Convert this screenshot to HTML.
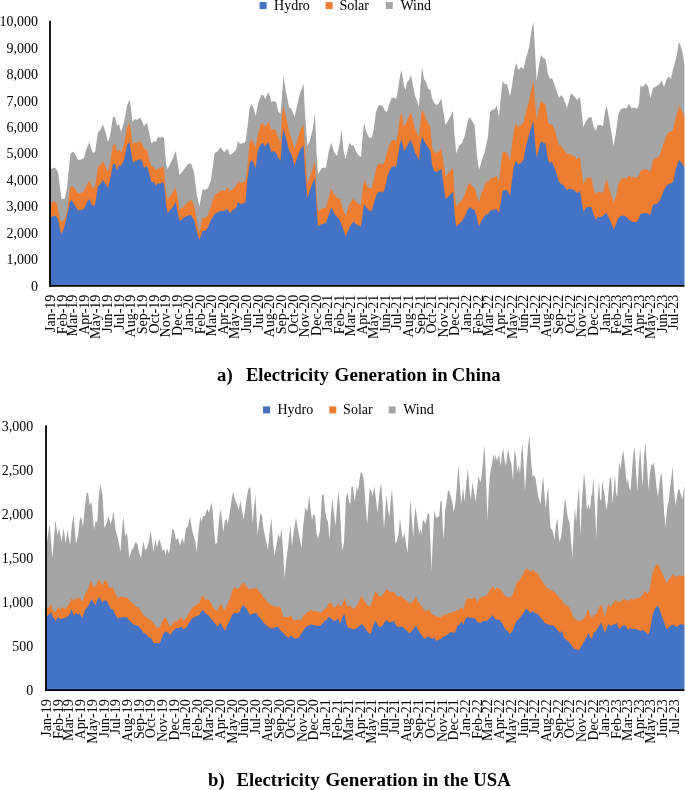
<!DOCTYPE html>
<html><head><meta charset="utf-8"><title>Electricity Generation</title>
<style>
html,body{margin:0;padding:0;background:#fff;}
svg{display:block;will-change:transform;}
text{font-family:"Liberation Serif", serif;font-size:14px;fill:#000;}
g.t text{font-size:18.67px;font-weight:bold;}
</style></head><body>
<svg width="685" height="790" viewBox="0 0 685 790">
<rect width="685" height="790" fill="#fff"/>
<rect x="259.6" y="2.1" width="7" height="7" fill="#4472C4"/>
<text x="274.1" y="9.9">Hydro</text>
<rect x="325.6" y="2.1" width="7" height="7" fill="#ED7D31"/>
<text x="339.4" y="9.9">Solar</text>
<rect x="385.8" y="2.1" width="7" height="7" fill="#A5A5A5"/>
<text x="400.4" y="9.9">Wind</text>
<path d="M50.0,285.9 L50.0,169.0 L51.0,169.0 L55.0,167.6 L58.0,172.0 L61.6,199.6 L65.0,198.0 L67.0,188.0 L70.4,154.0 L73.0,151.6 L75.0,154.0 L78.0,160.0 L81.0,159.6 L84.0,158.0 L86.0,150.0 L89.4,142.0 L91.0,148.0 L93.0,153.0 L95.0,152.0 L98.0,132.0 L100.4,130.0 L103.0,124.6 L106.0,134.0 L108.0,142.0 L110.0,136.0 L113.0,117.0 L115.0,117.0 L117.0,126.0 L119.0,124.0 L121.0,132.0 L124.0,122.0 L127.0,106.0 L129.4,99.6 L131.0,108.0 L132.4,122.0 L135.0,119.0 L137.0,120.0 L140.0,117.6 L142.0,121.0 L144.0,126.0 L147.0,122.4 L149.0,132.0 L151.4,143.6 L154.0,141.0 L156.0,142.0 L158.0,136.4 L160.0,138.0 L162.4,136.4 L164.0,138.0 L166.0,164.0 L167.6,169.0 L170.0,164.0 L173.0,158.0 L175.6,151.0 L177.6,162.0 L179.4,175.0 L182.0,172.0 L185.0,168.0 L188.0,164.0 L191.0,163.6 L194.0,172.0 L197.0,196.0 L199.4,206.0 L202.6,189.0 L205.0,190.0 L208.0,188.0 L211.0,180.0 L214.6,153.0 L218.0,151.0 L220.6,147.0 L223.0,151.0 L224.6,152.0 L227.4,148.4 L230.0,155.0 L233.0,153.0 L236.0,150.0 L238.0,141.0 L240.0,144.0 L243.0,143.0 L245.4,142.0 L247.4,128.0 L249.4,109.0 L251.6,104.0 L253.6,108.0 L255.6,116.0 L258.0,104.0 L261.0,95.6 L263.0,94.4 L265.0,99.0 L268.6,92.0 L271.4,102.0 L274.0,101.0 L276.0,102.0 L278.6,112.0 L280.6,114.0 L282.0,96.0 L283.4,76.0 L286.0,92.0 L289.0,107.0 L291.4,109.0 L294.6,117.0 L297.0,106.0 L300.0,93.0 L303.6,84.0 L305.0,114.0 L307.4,146.0 L310.0,140.0 L313.0,128.0 L315.0,113.0 L316.6,154.0 L318.0,174.0 L320.0,171.0 L322.0,168.0 L326.0,167.6 L329.0,150.0 L331.4,142.4 L334.0,152.0 L337.0,156.0 L339.6,144.0 L341.4,129.6 L343.4,150.0 L345.6,159.0 L347.6,150.0 L349.6,142.4 L351.6,146.0 L353.4,145.0 L356.0,152.0 L359.0,155.6 L361.0,157.0 L362.4,140.0 L364.0,123.0 L366.4,132.0 L369.0,137.6 L371.6,138.0 L373.6,130.0 L376.0,112.0 L378.4,105.6 L381.0,105.0 L383.0,106.4 L385.0,111.0 L387.0,112.0 L389.0,105.0 L391.6,98.0 L394.0,97.6 L396.0,99.0 L398.0,90.0 L400.0,76.0 L401.6,70.0 L404.0,86.0 L405.6,90.0 L407.0,82.0 L409.0,80.0 L411.0,75.0 L413.0,86.0 L415.0,96.0 L417.0,101.0 L419.0,107.0 L420.4,86.0 L422.0,67.0 L424.0,79.0 L426.0,82.0 L428.4,89.0 L430.4,90.0 L432.0,98.0 L433.6,102.0 L436.0,105.0 L438.4,104.0 L441.4,98.4 L443.4,112.0 L445.6,125.0 L448.4,120.0 L451.0,115.0 L453.0,111.0 L454.4,134.0 L456.2,153.2 L459.0,146.0 L462.0,143.0 L465.0,135.0 L468.0,120.0 L470.0,117.0 L472.0,121.0 L474.6,125.0 L477.0,156.0 L479.0,170.0 L481.4,162.0 L484.0,154.0 L486.0,146.0 L488.0,137.0 L490.0,112.0 L492.0,110.0 L494.6,109.6 L496.6,105.6 L499.0,117.0 L500.6,100.0 L502.6,81.0 L505.0,84.4 L507.0,84.0 L510.0,96.0 L512.0,86.0 L514.0,72.0 L516.0,63.0 L518.4,70.0 L521.0,67.0 L523.4,69.0 L526.0,58.0 L529.0,48.0 L531.0,34.0 L533.4,21.6 L535.0,50.0 L536.6,81.0 L538.6,68.0 L541.0,55.0 L543.4,58.0 L545.4,59.0 L548.0,74.0 L550.0,79.0 L552.0,78.0 L554.6,85.0 L557.0,92.0 L559.0,98.0 L561.0,95.0 L563.4,98.0 L567.0,108.0 L569.0,101.0 L571.0,93.0 L574.0,96.0 L577.0,100.0 L580.0,97.0 L581.4,110.0 L583.4,127.0 L586.0,121.0 L588.6,117.6 L591.4,117.0 L593.4,126.0 L596.0,131.0 L597.6,125.0 L600.4,125.0 L603.0,126.0 L605.0,112.0 L606.6,105.6 L609.0,118.0 L611.6,134.0 L613.6,146.0 L616.0,132.0 L618.4,114.0 L621.0,109.0 L624.0,108.0 L626.4,108.4 L629.0,104.0 L631.6,108.0 L634.4,107.6 L637.0,109.0 L639.0,104.0 L640.4,85.6 L643.0,87.0 L645.4,83.6 L648.0,86.0 L650.4,98.0 L653.0,88.0 L655.0,87.0 L657.6,85.6 L660.0,83.6 L661.6,80.4 L664.0,87.0 L666.4,80.0 L668.6,76.4 L671.0,79.0 L673.0,69.0 L674.4,65.0 L675.6,60.0 L676.8,55.0 L678.4,44.4 L679.4,42.2 L680.6,46.0 L682.4,52.0 L683.8,60.0 L684.8,64.0 L686.0,64.0 L686.0,285.9 Z" fill="#A5A5A5"/>
<path d="M50.0,285.9 L50.0,203.0 L51.0,203.0 L54.0,201.0 L57.0,204.0 L60.0,220.0 L62.0,222.0 L65.0,219.0 L67.0,212.0 L70.0,188.0 L72.4,186.0 L75.0,189.0 L78.0,193.6 L81.0,193.0 L84.0,191.6 L86.0,186.0 L89.4,180.4 L91.0,185.0 L93.0,188.0 L95.0,187.0 L98.0,167.0 L100.4,165.0 L103.0,161.0 L106.0,168.0 L108.0,172.0 L110.0,164.0 L113.0,145.0 L115.0,144.0 L117.0,152.0 L119.0,149.0 L121.0,153.0 L124.0,144.0 L127.0,128.0 L129.4,122.4 L131.0,132.0 L132.4,144.0 L135.0,142.0 L137.0,143.0 L140.0,140.4 L142.0,144.0 L144.0,149.0 L147.0,150.0 L149.0,158.0 L151.4,166.0 L154.0,167.0 L156.0,171.0 L158.0,168.0 L160.0,169.0 L162.4,166.4 L164.0,168.0 L166.0,192.0 L167.6,199.6 L170.0,196.0 L173.0,192.0 L175.6,187.6 L177.6,198.0 L179.4,210.0 L182.0,208.0 L185.0,205.0 L188.0,202.0 L191.0,199.6 L194.0,205.0 L197.0,222.0 L199.4,233.0 L202.6,217.6 L205.0,218.0 L208.0,215.0 L211.0,206.0 L214.6,195.0 L218.0,193.0 L220.6,191.0 L223.0,190.0 L224.6,191.0 L227.4,187.6 L230.0,191.0 L233.0,189.0 L236.0,186.0 L238.0,181.0 L240.0,183.0 L243.0,182.0 L245.4,181.0 L247.4,166.0 L249.4,144.0 L251.6,139.0 L253.6,143.0 L255.6,148.0 L258.0,134.0 L261.0,123.6 L263.0,123.0 L265.0,127.0 L268.6,122.0 L271.4,130.0 L274.0,129.0 L276.0,131.0 L278.6,139.0 L280.6,142.0 L282.0,116.0 L283.4,106.0 L286.0,117.0 L289.0,131.0 L291.4,138.0 L294.6,149.0 L297.0,141.0 L300.0,131.0 L303.6,124.0 L305.0,150.0 L307.4,184.0 L310.0,176.0 L313.0,168.0 L315.0,160.0 L316.6,196.0 L318.0,212.0 L320.0,210.0 L322.0,208.4 L326.0,207.6 L329.0,196.0 L331.4,188.0 L334.0,194.0 L337.0,198.0 L339.6,198.0 L341.4,204.0 L343.4,210.0 L345.6,216.0 L347.6,210.0 L349.6,204.0 L351.6,201.0 L353.4,198.0 L356.0,202.0 L359.0,204.0 L361.0,205.0 L362.4,192.0 L364.0,179.6 L366.4,185.0 L369.0,188.0 L371.6,188.4 L373.6,180.0 L376.0,169.0 L378.4,164.0 L381.0,163.6 L383.0,165.0 L385.0,160.0 L387.0,152.0 L389.0,146.0 L391.6,140.4 L394.0,140.0 L396.0,142.0 L398.0,132.0 L400.0,117.0 L401.6,112.4 L404.0,127.0 L405.6,124.0 L407.0,121.0 L409.0,116.0 L411.0,112.0 L413.0,121.0 L415.0,129.0 L417.0,133.0 L419.0,137.0 L420.4,124.0 L422.0,108.4 L424.0,114.0 L426.0,119.0 L428.4,124.0 L430.4,127.0 L432.0,146.0 L433.6,151.0 L436.0,153.0 L438.4,152.0 L441.4,148.0 L443.4,162.0 L445.6,176.4 L448.4,173.0 L451.0,170.0 L453.0,168.0 L454.4,192.0 L456.2,206.4 L459.0,203.0 L462.0,200.0 L465.0,194.0 L468.0,185.0 L470.0,183.0 L472.0,186.0 L474.6,188.0 L477.0,196.0 L479.0,202.0 L481.4,193.0 L484.0,188.0 L486.0,181.0 L488.0,182.0 L490.0,179.0 L492.0,178.0 L494.6,177.0 L496.6,176.0 L499.0,182.0 L500.6,168.0 L502.6,152.0 L505.0,152.0 L507.0,153.0 L510.0,161.0 L512.0,144.0 L514.0,130.0 L516.0,123.0 L518.4,127.0 L521.0,125.0 L523.4,123.0 L526.0,112.0 L529.0,101.0 L531.0,92.0 L533.4,80.0 L535.0,102.0 L536.6,120.0 L538.6,110.0 L541.0,101.0 L543.4,103.0 L545.4,104.0 L548.0,122.0 L550.0,125.0 L552.0,124.0 L554.6,129.0 L557.0,138.0 L559.0,145.0 L561.0,146.0 L563.4,149.0 L567.0,154.0 L569.0,154.0 L571.0,155.0 L574.0,156.0 L577.0,159.0 L580.0,157.0 L581.4,170.0 L583.4,184.0 L586.0,179.0 L588.6,177.6 L591.4,178.0 L593.4,188.0 L596.0,195.0 L597.6,192.0 L600.4,192.0 L603.0,193.0 L605.0,184.0 L606.6,179.0 L609.0,188.0 L611.6,196.0 L613.6,203.0 L616.0,196.0 L618.4,184.0 L621.0,179.0 L624.0,178.0 L626.4,178.4 L629.0,175.6 L631.6,177.6 L634.4,177.0 L637.0,178.0 L639.0,175.0 L640.4,171.0 L643.0,170.0 L645.4,169.0 L648.0,170.0 L650.4,172.0 L653.0,160.0 L655.0,158.0 L657.6,157.6 L660.0,155.0 L661.6,150.0 L664.0,142.0 L666.4,136.0 L668.6,132.0 L671.0,131.6 L673.0,130.0 L674.4,124.0 L675.6,118.0 L676.8,114.0 L678.4,109.0 L679.4,106.0 L680.6,108.0 L682.4,112.0 L683.8,115.6 L684.8,117.0 L686.0,117.0 L686.0,285.9 Z" fill="#ED7D31"/>
<path d="M50.0,285.9 L50.0,217.0 L51.0,217.0 L55.0,215.6 L58.0,219.0 L60.4,231.0 L61.6,234.0 L64.0,228.0 L67.0,216.0 L70.0,202.0 L71.6,200.0 L74.0,204.0 L78.0,210.4 L81.0,210.0 L84.0,209.0 L87.0,202.0 L89.4,199.0 L91.0,203.0 L93.0,206.0 L95.0,205.0 L98.0,186.0 L100.4,184.0 L103.0,180.0 L106.0,185.0 L108.0,188.0 L110.0,180.0 L113.0,164.0 L115.0,164.0 L117.0,170.4 L119.0,165.0 L121.0,166.0 L124.0,160.0 L127.0,145.0 L129.4,142.0 L131.0,152.0 L133.0,163.0 L135.0,161.0 L137.0,160.4 L140.0,159.0 L142.0,161.0 L144.0,168.0 L147.0,166.0 L149.0,173.0 L151.4,182.0 L154.0,182.0 L156.0,186.0 L158.0,183.0 L160.0,184.0 L162.4,182.0 L164.0,184.0 L166.0,204.0 L167.6,213.0 L170.0,210.0 L173.0,207.0 L175.6,202.0 L177.6,212.0 L179.4,221.0 L182.0,219.6 L185.0,217.0 L188.0,215.6 L191.0,215.0 L194.0,220.0 L197.0,232.0 L199.4,240.0 L202.6,231.0 L205.0,231.0 L208.0,227.0 L211.0,220.0 L214.6,214.0 L218.0,212.0 L220.6,211.0 L223.0,211.0 L224.6,210.4 L227.4,209.0 L230.0,213.0 L233.0,210.0 L236.0,208.0 L238.0,202.0 L240.0,204.0 L243.0,203.4 L245.4,202.4 L247.4,180.0 L249.4,164.0 L251.6,160.0 L253.6,163.0 L255.6,168.0 L258.0,150.0 L261.0,144.0 L263.0,143.0 L265.0,146.4 L268.6,142.0 L271.4,152.0 L274.0,151.0 L276.0,153.0 L278.6,158.0 L280.6,161.0 L282.0,140.0 L283.4,129.0 L286.0,138.0 L289.0,150.0 L291.4,154.0 L294.6,166.0 L297.0,158.0 L300.0,150.0 L303.6,145.6 L305.0,172.0 L307.4,198.0 L310.0,190.0 L313.0,182.0 L315.0,178.0 L316.6,208.0 L318.0,226.4 L320.0,225.0 L322.0,224.0 L326.0,223.0 L329.0,214.0 L331.4,207.6 L334.0,213.0 L337.0,217.0 L339.6,220.0 L341.4,224.0 L343.4,230.0 L345.6,236.4 L347.6,232.0 L349.6,227.0 L351.6,224.0 L353.4,221.6 L356.0,224.0 L359.0,226.0 L361.0,226.4 L362.4,216.0 L364.0,204.0 L366.4,207.6 L369.0,210.4 L371.6,211.0 L373.6,204.0 L376.0,196.0 L378.4,192.0 L381.0,191.6 L383.0,193.0 L385.0,188.0 L387.0,178.0 L389.0,172.0 L391.6,167.0 L394.0,166.0 L396.0,167.0 L398.0,156.0 L400.0,143.0 L401.6,140.0 L404.0,151.0 L405.6,149.0 L407.0,146.0 L409.0,142.4 L411.0,140.0 L413.0,146.0 L415.0,153.0 L417.0,156.0 L419.0,161.0 L420.4,144.0 L422.0,136.4 L424.0,141.0 L426.0,144.0 L428.4,148.0 L430.4,151.0 L432.0,164.0 L433.6,170.0 L436.0,172.0 L438.4,171.0 L441.4,169.0 L443.4,184.0 L445.6,199.0 L448.4,196.4 L451.0,194.0 L453.0,192.0 L454.4,212.0 L456.2,227.0 L459.0,224.0 L462.0,221.0 L465.0,216.0 L468.0,209.0 L470.0,207.0 L472.0,209.0 L474.6,210.0 L477.0,218.0 L479.0,226.4 L481.4,221.0 L484.0,217.0 L486.0,214.0 L488.0,214.4 L490.0,211.0 L492.0,210.0 L494.6,209.6 L496.6,209.0 L499.0,213.0 L500.6,204.0 L502.6,191.0 L505.0,190.0 L507.0,190.0 L510.0,196.0 L512.0,180.0 L514.0,166.0 L516.0,161.0 L518.4,164.0 L521.0,163.0 L523.4,160.0 L526.0,146.0 L529.0,135.0 L531.0,128.0 L533.4,121.0 L535.0,142.0 L536.6,158.0 L538.6,150.0 L541.0,141.0 L543.4,143.0 L545.4,143.6 L548.0,160.0 L550.0,163.0 L552.0,162.0 L554.6,168.0 L557.0,175.0 L559.0,182.0 L561.0,184.0 L563.4,185.0 L567.0,190.0 L569.0,189.0 L571.0,189.0 L574.0,190.0 L577.0,193.0 L580.0,191.0 L581.4,200.0 L583.4,212.0 L586.0,208.0 L588.6,207.0 L591.4,207.0 L593.4,214.0 L596.0,220.0 L597.6,217.6 L600.4,217.0 L603.0,216.0 L605.0,213.6 L606.6,213.0 L609.0,218.0 L611.6,224.0 L613.6,229.6 L616.0,224.0 L618.4,218.0 L621.0,216.0 L624.0,215.6 L626.4,217.0 L629.0,220.0 L631.6,221.6 L634.4,222.0 L637.0,222.0 L639.0,218.0 L640.4,214.0 L643.0,213.6 L645.4,213.0 L648.0,213.6 L650.4,215.0 L653.0,205.0 L655.0,204.0 L657.6,203.6 L660.0,200.0 L661.6,196.0 L664.0,190.0 L666.4,186.0 L668.6,184.0 L671.0,183.4 L673.0,182.0 L674.4,176.0 L675.6,170.0 L676.8,166.0 L678.4,161.6 L679.4,160.0 L680.6,161.6 L682.4,164.4 L683.8,166.6 L684.8,168.0 L686.0,168.0 L686.0,285.9 Z" fill="#4472C4"/>
<rect x="49.10" y="20.80" width="1.8" height="265.95" fill="#000"/><rect x="49.10" y="285.05" width="636.90" height="1.7" fill="#000"/>
<text x="38.1" y="290.80" text-anchor="end">0</text>
<text x="38.1" y="264.33" text-anchor="end">1,000</text>
<text x="38.1" y="237.86" text-anchor="end">2,000</text>
<text x="38.1" y="211.39" text-anchor="end">3,000</text>
<text x="38.1" y="184.92" text-anchor="end">4,000</text>
<text x="38.1" y="158.45" text-anchor="end">5,000</text>
<text x="38.1" y="131.98" text-anchor="end">6,000</text>
<text x="38.1" y="105.51" text-anchor="end">7,000</text>
<text x="38.1" y="79.04" text-anchor="end">8,000</text>
<text x="38.1" y="52.57" text-anchor="end">9,000</text>
<text x="38.1" y="26.10" text-anchor="end">10,000</text>
<text transform="translate(54.90,294.70) rotate(-90)" text-anchor="end">Jan-19</text>
<text transform="translate(66.67,294.70) rotate(-90)" text-anchor="end">Feb-19</text>
<text transform="translate(77.30,294.70) rotate(-90)" text-anchor="end">Mar-19</text>
<text transform="translate(89.07,294.70) rotate(-90)" text-anchor="end">Apr-19</text>
<text transform="translate(100.46,294.70) rotate(-90)" text-anchor="end">May-19</text>
<text transform="translate(112.23,294.70) rotate(-90)" text-anchor="end">Jun-19</text>
<text transform="translate(123.62,294.70) rotate(-90)" text-anchor="end">Jul-19</text>
<text transform="translate(135.39,294.70) rotate(-90)" text-anchor="end">Aug-19</text>
<text transform="translate(147.16,294.70) rotate(-90)" text-anchor="end">Sep-19</text>
<text transform="translate(158.55,294.70) rotate(-90)" text-anchor="end">Oct-19</text>
<text transform="translate(170.32,294.70) rotate(-90)" text-anchor="end">Nov-19</text>
<text transform="translate(181.71,294.70) rotate(-90)" text-anchor="end">Dec-19</text>
<text transform="translate(193.48,294.70) rotate(-90)" text-anchor="end">Jan-20</text>
<text transform="translate(205.24,294.70) rotate(-90)" text-anchor="end">Feb-20</text>
<text transform="translate(216.26,294.70) rotate(-90)" text-anchor="end">Mar-20</text>
<text transform="translate(228.02,294.70) rotate(-90)" text-anchor="end">Apr-20</text>
<text transform="translate(239.41,294.70) rotate(-90)" text-anchor="end">May-20</text>
<text transform="translate(251.18,294.70) rotate(-90)" text-anchor="end">Jun-20</text>
<text transform="translate(262.57,294.70) rotate(-90)" text-anchor="end">Jul-20</text>
<text transform="translate(274.34,294.70) rotate(-90)" text-anchor="end">Aug-20</text>
<text transform="translate(286.11,294.70) rotate(-90)" text-anchor="end">Sep-20</text>
<text transform="translate(297.50,294.70) rotate(-90)" text-anchor="end">Oct-20</text>
<text transform="translate(309.27,294.70) rotate(-90)" text-anchor="end">Nov-20</text>
<text transform="translate(320.66,294.70) rotate(-90)" text-anchor="end">Dec-20</text>
<text transform="translate(332.43,294.70) rotate(-90)" text-anchor="end">Jan-21</text>
<text transform="translate(344.20,294.70) rotate(-90)" text-anchor="end">Feb-21</text>
<text transform="translate(354.83,294.70) rotate(-90)" text-anchor="end">Mar-21</text>
<text transform="translate(366.60,294.70) rotate(-90)" text-anchor="end">Apr-21</text>
<text transform="translate(377.99,294.70) rotate(-90)" text-anchor="end">May-21</text>
<text transform="translate(389.76,294.70) rotate(-90)" text-anchor="end">Jun-21</text>
<text transform="translate(401.15,294.70) rotate(-90)" text-anchor="end">Jul-21</text>
<text transform="translate(412.92,294.70) rotate(-90)" text-anchor="end">Aug-21</text>
<text transform="translate(424.69,294.70) rotate(-90)" text-anchor="end">Sep-21</text>
<text transform="translate(436.08,294.70) rotate(-90)" text-anchor="end">Oct-21</text>
<text transform="translate(447.85,294.70) rotate(-90)" text-anchor="end">Nov-21</text>
<text transform="translate(459.24,294.70) rotate(-90)" text-anchor="end">Dec-21</text>
<text transform="translate(471.01,294.70) rotate(-90)" text-anchor="end">Jan-22</text>
<text transform="translate(482.78,294.70) rotate(-90)" text-anchor="end">Feb-22</text>
<text transform="translate(493.41,294.70) rotate(-90)" text-anchor="end">Mar-22</text>
<text transform="translate(505.18,294.70) rotate(-90)" text-anchor="end">Apr-22</text>
<text transform="translate(516.57,294.70) rotate(-90)" text-anchor="end">May-22</text>
<text transform="translate(528.33,294.70) rotate(-90)" text-anchor="end">Jun-22</text>
<text transform="translate(539.72,294.70) rotate(-90)" text-anchor="end">Jul-22</text>
<text transform="translate(551.49,294.70) rotate(-90)" text-anchor="end">Aug-22</text>
<text transform="translate(563.26,294.70) rotate(-90)" text-anchor="end">Sep-22</text>
<text transform="translate(574.65,294.70) rotate(-90)" text-anchor="end">Oct-22</text>
<text transform="translate(586.42,294.70) rotate(-90)" text-anchor="end">Nov-22</text>
<text transform="translate(597.81,294.70) rotate(-90)" text-anchor="end">Dec-22</text>
<text transform="translate(609.58,294.70) rotate(-90)" text-anchor="end">Jan-23</text>
<text transform="translate(621.35,294.70) rotate(-90)" text-anchor="end">Feb-23</text>
<text transform="translate(631.98,294.70) rotate(-90)" text-anchor="end">Mar-23</text>
<text transform="translate(643.75,294.70) rotate(-90)" text-anchor="end">Apr-23</text>
<text transform="translate(655.14,294.70) rotate(-90)" text-anchor="end">May-23</text>
<text transform="translate(666.91,294.70) rotate(-90)" text-anchor="end">Jun-23</text>
<text transform="translate(678.30,294.70) rotate(-90)" text-anchor="end">Jul-23</text>
<g class="t"><text x="217.1" y="380.8">a)</text><text x="245.9" y="380.8">Electricity</text><text x="334.6" y="380.8" textLength="92.3" lengthAdjust="spacingAndGlyphs">Generation</text><text x="432.05" y="380.8">in</text><text x="451.85" y="380.8">China</text></g>
<rect x="263.0" y="406.4" width="7" height="7" fill="#4472C4"/>
<text x="277.5" y="414.3">Hydro</text>
<rect x="329.3" y="406.4" width="7" height="7" fill="#ED7D31"/>
<text x="343.1" y="414.3">Solar</text>
<rect x="388.6" y="406.4" width="7" height="7" fill="#A5A5A5"/>
<text x="403.2" y="414.3">Wind</text>
<path d="M46.0,690.1 L46.0,542.0 L47.0,542.0 L49.6,524.0 L52.4,558.0 L55.4,520.0 L57.6,536.0 L59.0,528.0 L61.6,542.0 L63.6,528.0 L65.6,543.0 L67.6,530.0 L70.0,545.0 L72.0,524.0 L73.6,515.0 L76.0,544.0 L78.0,536.0 L79.6,521.0 L81.0,516.0 L83.0,527.0 L85.0,506.0 L86.6,493.6 L88.0,492.4 L89.6,505.0 L91.6,502.0 L94.0,530.0 L95.6,521.0 L97.2,523.0 L98.8,496.0 L100.4,484.4 L102.4,494.0 L104.4,528.0 L106.4,524.0 L108.4,516.0 L110.4,524.0 L112.0,520.0 L113.6,511.0 L115.6,530.0 L118.0,539.0 L120.4,552.0 L122.0,530.0 L123.4,516.0 L125.0,536.0 L127.0,533.0 L129.4,558.0 L131.6,550.0 L133.6,548.0 L135.4,542.0 L137.4,544.0 L139.0,552.0 L141.0,558.0 L143.4,541.0 L145.0,550.0 L147.0,548.0 L149.0,541.0 L150.6,530.0 L152.4,544.0 L153.6,552.0 L155.2,539.0 L157.0,548.0 L159.0,539.0 L161.0,544.0 L162.4,551.0 L164.0,549.0 L165.6,555.0 L167.0,548.0 L169.0,554.0 L170.4,544.0 L172.4,529.0 L174.0,530.0 L176.0,540.0 L178.0,538.0 L180.0,546.0 L181.0,542.0 L182.6,538.0 L184.0,544.0 L186.0,528.0 L187.6,527.0 L190.0,516.4 L192.0,530.0 L194.0,537.0 L195.4,542.0 L196.6,552.0 L198.6,530.0 L200.4,516.4 L201.6,522.0 L203.0,516.0 L205.0,516.0 L207.0,508.4 L209.0,513.0 L211.4,502.4 L212.6,510.0 L214.0,530.0 L215.4,544.0 L217.0,543.0 L219.0,520.0 L220.4,509.0 L222.0,520.0 L223.4,532.0 L225.0,520.0 L226.6,519.0 L227.6,524.0 L229.0,517.0 L231.0,504.0 L233.0,491.6 L235.0,500.0 L237.0,504.0 L238.6,510.0 L240.4,500.4 L242.0,510.0 L243.6,520.0 L245.0,510.0 L247.0,496.0 L248.6,488.4 L250.2,487.0 L251.4,504.0 L252.6,523.0 L254.2,506.0 L255.4,494.4 L256.6,518.0 L257.6,535.0 L259.4,520.0 L260.6,513.0 L262.0,516.0 L263.4,528.0 L265.0,536.0 L266.6,543.0 L268.0,550.0 L269.6,532.0 L271.4,518.0 L273.0,542.0 L274.6,556.0 L276.6,544.0 L278.4,533.6 L280.0,539.0 L281.6,528.0 L283.0,550.0 L284.6,577.0 L286.6,558.0 L288.6,542.0 L290.4,525.6 L292.0,546.0 L294.0,530.0 L296.0,517.6 L298.0,530.0 L300.0,540.0 L301.4,549.0 L303.4,524.0 L305.4,507.0 L307.4,512.0 L309.2,495.0 L310.6,510.0 L312.0,520.0 L313.4,514.0 L315.0,516.0 L316.6,534.0 L318.0,539.0 L320.0,530.0 L322.0,495.0 L323.6,494.4 L325.0,510.0 L326.4,518.0 L328.0,522.0 L329.6,540.0 L331.0,514.0 L332.4,498.0 L334.0,514.0 L335.6,526.0 L337.0,506.0 L338.4,491.6 L340.0,508.0 L341.6,542.0 L342.6,551.0 L344.0,542.0 L346.0,498.0 L347.6,492.4 L349.0,502.0 L350.4,504.0 L351.6,486.0 L353.0,487.0 L354.4,501.0 L355.6,496.0 L356.6,486.0 L358.0,491.0 L359.4,480.0 L360.8,472.0 L362.4,473.0 L364.0,482.0 L365.6,506.0 L367.2,524.0 L368.4,508.0 L369.6,488.4 L371.0,490.0 L372.4,496.0 L374.4,486.4 L376.0,500.0 L377.6,513.0 L379.2,496.0 L381.0,482.4 L382.4,500.0 L384.0,529.0 L385.4,510.0 L386.4,494.4 L388.0,510.0 L389.4,517.0 L390.8,500.0 L392.0,489.0 L393.2,506.0 L394.4,530.0 L395.6,544.0 L397.2,540.0 L398.6,534.0 L400.0,518.0 L401.6,532.0 L402.8,539.0 L404.4,532.0 L406.0,544.0 L407.6,553.0 L409.0,526.0 L410.4,499.0 L411.6,516.0 L413.2,537.0 L414.4,518.0 L415.6,507.0 L417.0,518.0 L418.4,528.0 L419.6,534.0 L420.6,528.0 L421.6,535.0 L422.8,520.0 L424.0,521.0 L425.4,524.0 L426.6,519.0 L428.0,513.0 L429.2,514.0 L430.4,542.0 L431.6,570.0 L433.0,536.0 L434.4,510.0 L436.0,518.0 L437.6,517.0 L439.2,516.0 L440.4,502.0 L441.6,500.0 L442.8,528.0 L443.8,539.0 L445.2,510.0 L446.6,502.0 L448.0,490.0 L449.6,492.0 L451.0,498.0 L452.4,502.0 L453.6,512.0 L455.0,506.0 L456.6,490.0 L458.4,465.0 L460.0,488.0 L461.4,504.0 L463.0,487.0 L464.6,502.0 L466.2,484.0 L467.8,468.0 L469.4,488.0 L470.8,500.0 L472.4,482.4 L474.0,492.0 L475.6,502.0 L477.0,490.0 L478.6,476.0 L480.4,483.0 L482.0,473.0 L483.4,456.0 L484.6,445.0 L486.0,480.0 L487.6,520.0 L489.0,486.0 L490.6,470.0 L492.0,465.0 L493.4,453.6 L494.6,460.0 L495.6,454.4 L497.0,461.0 L498.2,456.4 L499.4,456.0 L500.6,466.0 L502.0,454.0 L503.2,448.4 L504.6,460.0 L506.0,466.0 L507.4,454.0 L508.4,450.0 L509.8,459.0 L511.2,463.0 L513.0,480.0 L514.6,450.0 L516.0,456.0 L517.4,473.0 L518.6,464.0 L520.0,474.0 L521.4,452.0 L522.4,443.6 L523.8,468.0 L525.0,491.0 L526.6,466.0 L528.0,447.0 L529.4,435.6 L531.0,460.0 L532.6,477.0 L534.0,475.0 L535.4,478.0 L537.0,488.0 L538.6,498.0 L540.6,504.0 L542.0,486.0 L543.2,476.4 L544.6,496.0 L545.8,509.0 L547.0,494.0 L548.2,488.0 L549.4,512.0 L550.6,528.0 L552.0,530.0 L553.0,532.0 L554.4,540.0 L555.8,526.0 L557.4,518.0 L558.6,536.0 L559.4,542.0 L561.0,538.0 L562.6,524.0 L564.0,508.0 L565.2,498.0 L566.6,510.0 L568.0,518.0 L569.4,522.0 L571.0,540.0 L572.4,557.0 L573.8,526.0 L575.0,508.0 L576.2,522.0 L577.4,504.0 L579.0,486.0 L580.4,536.0 L582.0,500.0 L584.0,472.4 L585.4,486.0 L587.0,510.0 L588.4,504.0 L590.0,510.0 L591.4,494.0 L592.0,496.0 L593.4,477.6 L595.0,510.0 L596.4,538.0 L597.6,500.0 L599.0,481.0 L600.0,499.0 L601.2,501.0 L602.4,480.0 L603.6,490.0 L604.8,496.0 L606.2,510.0 L607.6,504.0 L609.0,486.0 L610.0,477.6 L611.2,478.0 L612.6,504.0 L613.8,490.0 L615.0,475.0 L616.0,492.0 L617.2,497.0 L618.4,474.0 L619.4,461.6 L620.6,470.0 L621.8,458.0 L623.2,450.0 L624.6,462.0 L626.0,476.0 L627.0,484.0 L628.0,478.0 L629.2,488.0 L630.6,491.0 L632.0,470.0 L633.4,454.0 L634.6,446.4 L636.0,470.0 L637.4,492.0 L638.8,466.0 L640.2,447.0 L641.4,468.0 L642.6,487.0 L644.0,456.0 L645.4,443.0 L646.8,462.0 L648.4,490.0 L650.0,473.0 L651.4,464.0 L652.6,466.0 L653.8,462.0 L655.2,474.0 L656.6,488.0 L658.0,497.0 L659.4,484.0 L660.6,475.0 L661.6,473.0 L663.0,492.0 L664.2,514.0 L665.4,527.0 L666.6,514.0 L667.6,505.0 L668.8,501.0 L670.0,488.0 L671.4,478.0 L672.6,466.0 L674.0,490.0 L675.4,505.0 L676.6,499.0 L678.0,490.0 L679.4,489.0 L680.8,494.0 L682.2,500.0 L683.6,490.0 L684.6,486.0 L686.0,486.0 L686.0,690.1 Z" fill="#A5A5A5"/>
<path d="M46.0,690.1 L46.0,608.0 L47.0,608.0 L49.0,607.0 L51.0,604.0 L53.0,611.0 L55.6,612.0 L58.0,607.0 L60.0,610.0 L62.4,607.0 L65.0,609.0 L67.6,606.0 L70.0,602.0 L71.6,598.0 L73.6,601.0 L76.0,598.0 L78.0,599.0 L79.6,597.0 L82.4,602.0 L85.0,594.0 L87.6,590.0 L89.6,585.0 L91.2,580.0 L93.2,586.0 L95.2,587.6 L97.2,583.0 L99.0,579.0 L101.0,583.0 L102.6,585.6 L105.0,579.6 L107.0,582.0 L109.0,587.0 L111.0,588.0 L113.0,587.6 L115.6,594.0 L118.0,598.0 L120.4,597.0 L123.0,596.4 L125.0,598.0 L127.0,597.0 L129.0,600.0 L131.6,602.4 L134.0,604.4 L136.4,607.0 L139.0,607.6 L141.0,611.0 L143.4,615.0 L146.0,617.0 L148.4,619.0 L151.0,620.0 L153.6,623.0 L156.0,627.0 L158.4,628.0 L160.4,626.0 L162.4,621.0 L164.6,618.0 L166.4,619.0 L168.4,624.0 L170.4,627.0 L173.0,623.0 L175.0,621.0 L177.0,622.0 L179.0,619.0 L181.0,617.0 L183.4,621.0 L186.0,618.0 L189.0,613.0 L192.0,608.0 L194.6,606.0 L197.0,604.0 L199.4,603.0 L201.4,597.0 L203.4,595.0 L205.4,600.0 L208.0,599.0 L210.6,602.0 L213.0,607.0 L215.4,610.0 L217.4,611.0 L219.4,605.0 L221.0,604.0 L223.0,609.0 L225.0,610.0 L227.4,604.0 L230.0,599.0 L232.6,590.0 L234.6,587.0 L237.0,588.4 L239.4,588.0 L241.6,584.0 L243.4,582.4 L245.4,585.0 L247.6,588.0 L250.0,590.0 L252.0,588.0 L254.0,589.0 L256.4,587.6 L258.6,591.0 L261.0,593.0 L263.4,597.0 L266.0,600.0 L268.6,603.0 L271.0,605.0 L273.4,606.0 L276.0,607.0 L278.4,606.0 L281.0,609.0 L283.4,617.0 L286.0,617.0 L288.6,617.0 L291.0,615.6 L293.0,619.0 L295.0,621.0 L297.4,619.0 L299.4,620.4 L301.6,619.0 L303.6,615.0 L306.0,614.0 L308.6,611.0 L311.0,610.0 L313.4,611.0 L316.0,611.0 L318.0,612.0 L321.0,613.0 L323.6,610.0 L326.4,608.0 L329.0,603.0 L331.6,603.0 L334.0,608.0 L336.4,606.0 L338.0,603.6 L340.4,607.0 L342.4,605.0 L344.4,598.0 L346.4,604.0 L348.0,607.0 L350.4,605.6 L353.0,609.0 L355.6,607.6 L358.0,604.0 L360.4,598.0 L362.0,596.4 L364.4,601.0 L367.0,605.0 L369.0,606.0 L371.0,606.0 L373.0,598.0 L375.4,591.0 L377.6,594.0 L379.6,596.4 L382.0,596.0 L384.0,593.0 L386.6,589.0 L389.0,591.0 L391.4,592.4 L394.0,591.6 L396.4,596.0 L399.0,597.0 L401.6,596.0 L404.0,599.0 L407.0,601.0 L409.6,603.6 L412.0,602.4 L414.0,600.0 L416.0,596.0 L418.0,602.0 L420.0,604.0 L422.4,607.0 L424.4,610.4 L427.0,611.0 L428.6,609.0 L430.4,612.0 L432.4,614.4 L434.0,615.0 L436.4,616.4 L439.0,617.0 L441.0,617.6 L443.6,615.0 L446.0,614.4 L448.4,613.6 L451.0,613.0 L453.0,612.0 L455.0,611.0 L457.4,611.0 L460.0,609.0 L461.6,607.0 L463.4,610.0 L465.4,602.0 L467.4,598.0 L470.0,599.0 L472.6,598.4 L475.0,597.6 L477.4,602.0 L480.0,598.0 L482.6,597.0 L485.0,596.0 L487.4,594.4 L490.0,590.0 L492.6,586.4 L495.0,589.6 L497.4,587.6 L500.0,589.0 L502.6,592.0 L505.0,596.0 L507.4,597.0 L510.0,598.0 L512.6,595.0 L514.6,589.0 L516.6,583.0 L519.0,581.0 L521.4,577.0 L524.0,572.0 L526.6,568.0 L529.0,570.4 L530.6,572.0 L532.6,569.6 L535.0,572.0 L537.4,573.0 L540.0,578.0 L542.6,582.0 L545.0,585.6 L547.4,588.0 L550.0,590.0 L552.6,590.4 L555.0,592.4 L557.4,595.0 L560.0,599.0 L562.0,600.0 L564.0,604.0 L566.6,605.0 L569.0,607.0 L571.4,612.0 L574.0,618.0 L576.6,620.0 L579.4,621.0 L582.0,620.0 L584.6,618.0 L587.0,612.0 L588.4,609.0 L590.0,615.0 L592.0,618.4 L593.6,615.0 L596.0,614.4 L598.4,609.0 L601.0,604.0 L603.0,609.0 L605.0,617.6 L607.0,608.0 L608.4,604.0 L610.4,607.0 L613.0,603.6 L615.0,600.4 L617.0,601.0 L619.0,602.4 L621.4,601.0 L623.6,599.0 L626.0,600.0 L628.0,601.0 L630.4,599.0 L633.0,599.6 L635.6,598.4 L638.0,598.0 L640.4,597.6 L642.4,595.0 L644.4,591.0 L646.4,592.4 L648.0,593.6 L649.6,590.0 L651.0,582.0 L652.4,574.0 L654.0,569.0 L656.0,565.0 L657.6,564.0 L659.6,567.0 L661.6,572.0 L663.6,576.0 L665.6,581.0 L667.0,583.0 L669.0,579.0 L671.0,577.6 L673.0,574.0 L675.0,576.0 L677.0,577.0 L679.0,575.0 L681.0,576.0 L683.0,575.6 L684.6,576.0 L686.0,576.0 L686.0,690.1 Z" fill="#ED7D31"/>
<path d="M46.0,690.1 L46.0,616.0 L47.0,616.0 L49.0,614.4 L51.0,612.0 L53.0,617.0 L55.6,621.0 L58.0,617.0 L60.0,619.0 L62.4,618.4 L65.0,618.0 L67.6,616.4 L70.0,614.0 L71.6,609.6 L73.6,615.6 L76.0,613.0 L78.0,614.4 L79.6,613.6 L82.4,618.0 L85.0,610.0 L87.6,607.0 L89.6,604.0 L91.2,599.0 L93.2,602.0 L95.2,605.6 L97.2,600.0 L99.0,596.4 L101.0,600.0 L102.6,602.4 L105.0,600.0 L107.0,601.6 L109.0,605.0 L111.0,609.0 L113.0,609.6 L115.6,615.0 L118.0,618.4 L120.4,617.6 L123.0,617.0 L125.0,617.6 L127.0,617.0 L129.0,620.0 L131.6,622.4 L134.0,625.0 L136.4,625.6 L139.0,626.4 L141.0,629.0 L143.4,633.0 L146.0,634.0 L148.4,637.0 L151.0,638.0 L153.6,643.0 L156.0,643.0 L158.4,643.6 L160.4,642.0 L162.4,636.0 L164.6,632.0 L166.4,631.6 L168.4,633.0 L170.4,635.0 L173.0,631.0 L175.0,629.0 L177.0,628.0 L179.0,628.0 L181.0,626.4 L183.4,629.0 L186.0,628.0 L189.0,623.0 L192.0,618.4 L194.6,617.0 L197.0,616.0 L199.4,615.0 L201.4,611.0 L203.4,610.0 L205.4,613.6 L208.0,615.0 L210.6,618.0 L213.0,621.0 L215.4,624.0 L217.4,627.0 L219.4,624.0 L221.0,623.0 L223.0,628.0 L225.0,631.0 L227.4,625.0 L230.0,620.0 L232.6,614.0 L234.6,613.0 L237.0,613.6 L239.4,612.0 L241.6,607.6 L243.4,605.0 L245.4,607.0 L247.6,611.0 L250.0,615.0 L252.0,614.0 L254.0,613.6 L256.4,613.0 L258.6,616.4 L261.0,619.0 L263.4,622.4 L266.0,625.0 L268.6,627.0 L271.0,628.4 L273.4,628.0 L276.0,627.0 L278.4,627.0 L281.0,631.0 L283.4,633.0 L286.0,636.0 L288.6,638.0 L291.0,635.6 L293.0,637.0 L295.0,639.0 L297.4,638.0 L299.4,637.0 L301.6,633.0 L303.6,630.0 L306.0,627.0 L308.6,625.6 L311.0,624.4 L313.4,625.0 L316.0,625.6 L318.0,626.0 L321.0,625.6 L323.6,622.0 L326.4,620.0 L329.0,616.4 L331.6,619.0 L334.0,621.0 L336.4,620.0 L338.0,618.4 L340.4,624.0 L342.4,617.0 L344.4,614.0 L346.4,624.0 L348.0,628.0 L350.4,628.0 L353.0,629.6 L355.6,629.0 L358.0,627.0 L360.4,625.0 L362.0,624.0 L364.4,627.0 L367.0,631.0 L369.0,633.6 L371.0,633.6 L373.0,626.0 L375.4,620.4 L377.6,625.0 L379.6,627.0 L382.0,626.4 L384.0,623.0 L386.6,620.0 L389.0,622.4 L391.4,622.0 L394.0,621.0 L396.4,626.0 L399.0,627.0 L401.6,626.4 L404.0,628.0 L407.0,631.0 L409.6,633.6 L412.0,631.0 L414.0,628.0 L416.0,626.0 L418.0,630.0 L420.0,633.0 L422.4,636.0 L424.4,639.0 L427.0,637.0 L428.6,636.0 L430.4,638.0 L432.4,638.4 L434.0,637.6 L436.4,641.0 L439.0,639.6 L441.0,639.0 L443.6,636.4 L446.0,635.6 L448.4,634.0 L451.0,632.0 L453.0,632.4 L455.0,633.0 L457.4,626.0 L460.0,624.0 L461.6,621.0 L463.4,625.0 L465.4,619.0 L467.4,617.0 L470.0,618.0 L472.6,618.0 L475.0,618.4 L477.4,622.0 L480.0,623.0 L482.6,621.6 L485.0,621.0 L487.4,620.4 L490.0,618.0 L492.6,615.0 L495.0,619.0 L497.4,619.6 L500.0,620.0 L502.6,624.0 L505.0,629.0 L507.4,631.0 L510.0,634.0 L512.6,631.0 L514.6,625.0 L516.6,621.0 L519.0,619.0 L521.4,616.0 L524.0,612.0 L526.6,608.4 L529.0,611.6 L530.6,613.0 L532.6,611.0 L535.0,613.6 L537.4,613.6 L540.0,617.0 L542.6,620.0 L545.0,623.0 L547.4,624.0 L550.0,625.6 L552.6,625.0 L555.0,627.0 L557.4,630.0 L560.0,633.0 L562.0,631.0 L564.0,638.0 L566.6,640.0 L569.0,642.0 L571.4,645.0 L574.0,649.0 L576.6,649.6 L579.4,650.0 L582.0,645.0 L584.6,641.0 L587.0,636.0 L588.4,633.0 L590.0,637.0 L592.0,639.0 L593.6,633.0 L596.0,631.0 L598.4,627.0 L601.0,622.4 L603.0,628.0 L605.0,633.0 L607.0,627.0 L608.4,624.0 L610.4,626.0 L613.0,625.0 L615.0,624.0 L617.0,623.0 L619.0,629.0 L621.4,627.0 L623.6,625.0 L626.0,626.0 L628.0,630.0 L630.4,628.0 L633.0,629.0 L635.6,629.0 L638.0,629.6 L640.4,631.0 L642.4,630.0 L644.4,631.0 L646.4,633.0 L648.0,635.0 L649.6,632.0 L651.0,624.0 L652.4,616.0 L654.0,611.0 L656.0,607.0 L657.6,605.6 L659.6,609.0 L661.6,616.0 L663.6,621.0 L665.6,627.0 L667.0,629.6 L669.0,627.0 L671.0,625.6 L673.0,624.4 L675.0,626.0 L677.0,627.0 L679.0,625.0 L681.0,624.0 L683.0,625.0 L684.6,625.6 L686.0,625.6 L686.0,690.1 Z" fill="#4472C4"/>
<rect x="45.10" y="425.40" width="1.8" height="265.60" fill="#000"/><rect x="45.10" y="689.30" width="640.90" height="1.7" fill="#000"/>
<text x="33.2" y="695.10" text-anchor="end">0</text>
<text x="33.2" y="651.03" text-anchor="end">500</text>
<text x="33.2" y="606.96" text-anchor="end">1,000</text>
<text x="33.2" y="562.89" text-anchor="end">1,500</text>
<text x="33.2" y="518.82" text-anchor="end">2,000</text>
<text x="33.2" y="474.75" text-anchor="end">2,500</text>
<text x="33.2" y="430.68" text-anchor="end">3,000</text>
<text transform="translate(50.80,699.30) rotate(-90)" text-anchor="end">Jan-19</text>
<text transform="translate(62.65,699.30) rotate(-90)" text-anchor="end">Feb-19</text>
<text transform="translate(73.36,699.30) rotate(-90)" text-anchor="end">Mar-19</text>
<text transform="translate(85.21,699.30) rotate(-90)" text-anchor="end">Apr-19</text>
<text transform="translate(96.68,699.30) rotate(-90)" text-anchor="end">May-19</text>
<text transform="translate(108.53,699.30) rotate(-90)" text-anchor="end">Jun-19</text>
<text transform="translate(120.00,699.30) rotate(-90)" text-anchor="end">Jul-19</text>
<text transform="translate(131.86,699.30) rotate(-90)" text-anchor="end">Aug-19</text>
<text transform="translate(143.71,699.30) rotate(-90)" text-anchor="end">Sep-19</text>
<text transform="translate(155.18,699.30) rotate(-90)" text-anchor="end">Oct-19</text>
<text transform="translate(167.03,699.30) rotate(-90)" text-anchor="end">Nov-19</text>
<text transform="translate(178.50,699.30) rotate(-90)" text-anchor="end">Dec-19</text>
<text transform="translate(190.35,699.30) rotate(-90)" text-anchor="end">Jan-20</text>
<text transform="translate(202.21,699.30) rotate(-90)" text-anchor="end">Feb-20</text>
<text transform="translate(213.29,699.30) rotate(-90)" text-anchor="end">Mar-20</text>
<text transform="translate(225.15,699.30) rotate(-90)" text-anchor="end">Apr-20</text>
<text transform="translate(236.62,699.30) rotate(-90)" text-anchor="end">May-20</text>
<text transform="translate(248.47,699.30) rotate(-90)" text-anchor="end">Jun-20</text>
<text transform="translate(259.94,699.30) rotate(-90)" text-anchor="end">Jul-20</text>
<text transform="translate(271.79,699.30) rotate(-90)" text-anchor="end">Aug-20</text>
<text transform="translate(283.64,699.30) rotate(-90)" text-anchor="end">Sep-20</text>
<text transform="translate(295.11,699.30) rotate(-90)" text-anchor="end">Oct-20</text>
<text transform="translate(306.97,699.30) rotate(-90)" text-anchor="end">Nov-20</text>
<text transform="translate(318.44,699.30) rotate(-90)" text-anchor="end">Dec-20</text>
<text transform="translate(330.29,699.30) rotate(-90)" text-anchor="end">Jan-21</text>
<text transform="translate(342.14,699.30) rotate(-90)" text-anchor="end">Feb-21</text>
<text transform="translate(352.85,699.30) rotate(-90)" text-anchor="end">Mar-21</text>
<text transform="translate(364.70,699.30) rotate(-90)" text-anchor="end">Apr-21</text>
<text transform="translate(376.17,699.30) rotate(-90)" text-anchor="end">May-21</text>
<text transform="translate(388.02,699.30) rotate(-90)" text-anchor="end">Jun-21</text>
<text transform="translate(399.49,699.30) rotate(-90)" text-anchor="end">Jul-21</text>
<text transform="translate(411.35,699.30) rotate(-90)" text-anchor="end">Aug-21</text>
<text transform="translate(423.20,699.30) rotate(-90)" text-anchor="end">Sep-21</text>
<text transform="translate(434.67,699.30) rotate(-90)" text-anchor="end">Oct-21</text>
<text transform="translate(446.52,699.30) rotate(-90)" text-anchor="end">Nov-21</text>
<text transform="translate(457.99,699.30) rotate(-90)" text-anchor="end">Dec-21</text>
<text transform="translate(469.84,699.30) rotate(-90)" text-anchor="end">Jan-22</text>
<text transform="translate(481.70,699.30) rotate(-90)" text-anchor="end">Feb-22</text>
<text transform="translate(492.40,699.30) rotate(-90)" text-anchor="end">Mar-22</text>
<text transform="translate(504.25,699.30) rotate(-90)" text-anchor="end">Apr-22</text>
<text transform="translate(515.72,699.30) rotate(-90)" text-anchor="end">May-22</text>
<text transform="translate(527.58,699.30) rotate(-90)" text-anchor="end">Jun-22</text>
<text transform="translate(539.05,699.30) rotate(-90)" text-anchor="end">Jul-22</text>
<text transform="translate(550.90,699.30) rotate(-90)" text-anchor="end">Aug-22</text>
<text transform="translate(562.75,699.30) rotate(-90)" text-anchor="end">Sep-22</text>
<text transform="translate(574.22,699.30) rotate(-90)" text-anchor="end">Oct-22</text>
<text transform="translate(586.07,699.30) rotate(-90)" text-anchor="end">Nov-22</text>
<text transform="translate(597.54,699.30) rotate(-90)" text-anchor="end">Dec-22</text>
<text transform="translate(609.40,699.30) rotate(-90)" text-anchor="end">Jan-23</text>
<text transform="translate(621.25,699.30) rotate(-90)" text-anchor="end">Feb-23</text>
<text transform="translate(631.95,699.30) rotate(-90)" text-anchor="end">Mar-23</text>
<text transform="translate(643.81,699.30) rotate(-90)" text-anchor="end">Apr-23</text>
<text transform="translate(655.28,699.30) rotate(-90)" text-anchor="end">May-23</text>
<text transform="translate(667.13,699.30) rotate(-90)" text-anchor="end">Jun-23</text>
<text transform="translate(678.60,699.30) rotate(-90)" text-anchor="end">Jul-23</text>
<g class="t"><text x="208.0" y="785.7">b)</text><text x="236.6" y="785.7">Electricity</text><text x="325.5" y="785.7" textLength="92.3" lengthAdjust="spacingAndGlyphs">Generation</text><text x="422.75" y="785.7">in</text><text x="443.45" y="785.7">the</text><text x="473.3" y="785.7">USA</text></g>
<rect x="684.45" y="0" width="2" height="790" fill="#fff"/>
</svg>
</body></html>
